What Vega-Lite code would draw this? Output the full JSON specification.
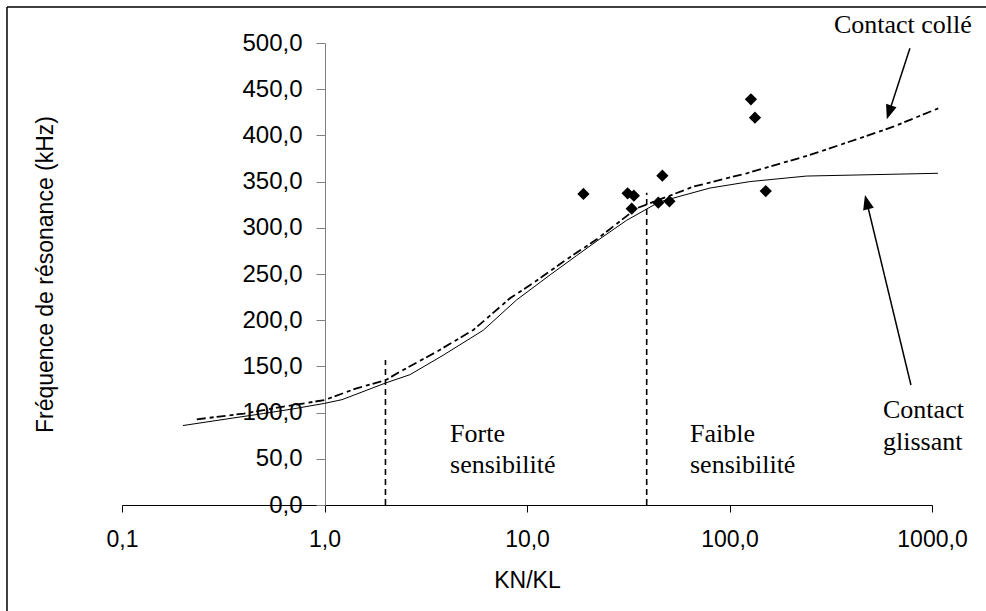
{
  "$schema": "https://vega.github.io/schema/vega-lite/v6.json",
  "width": 810,
  "height": 462,
  "autosize": "none",
  "padding": {"left": 122, "top": 43, "right": 54, "bottom": 106},
  "background": "white",
  "config": {"view": {"stroke": null}, "font": "Liberation Sans"},
  "datasets": {
    "glissant": [
      {"kn": 0.2, "f": 86}, {"kn": 0.35, "f": 94}, {"kn": 0.5, "f": 99}, {"kn": 0.7, "f": 104},
      {"kn": 1, "f": 110}, {"kn": 1.22, "f": 114}, {"kn": 2, "f": 132}, {"kn": 2.64, "f": 141},
      {"kn": 3.85, "f": 162}, {"kn": 6.07, "f": 189}, {"kn": 8.89, "f": 222}, {"kn": 13, "f": 249},
      {"kn": 17.6, "f": 270}, {"kn": 22.9, "f": 288}, {"kn": 31, "f": 308}, {"kn": 45, "f": 328},
      {"kn": 80, "f": 343}, {"kn": 126, "f": 350}, {"kn": 240, "f": 356}, {"kn": 1070, "f": 359}
    ],
    "colle": [
      {"kn": 0.234, "f": 92.7}, {"kn": 0.4, "f": 99}, {"kn": 0.627, "f": 106.4}, {"kn": 1, "f": 113.6},
      {"kn": 1.44, "f": 126.3}, {"kn": 2, "f": 135}, {"kn": 2.36, "f": 144.3}, {"kn": 3.58, "f": 165.9},
      {"kn": 5.43, "f": 189.4}, {"kn": 8.24, "f": 223.7}, {"kn": 10.7, "f": 240}, {"kn": 15.1, "f": 263.3},
      {"kn": 22.1, "f": 287.5}, {"kn": 34.7, "f": 321}, {"kn": 66.2, "f": 344.5}, {"kn": 121.6, "f": 359},
      {"kn": 249, "f": 378.8}, {"kn": 440, "f": 396.9}, {"kn": 644, "f": 409.4}, {"kn": 1074, "f": 429.3}
    ],
    "mesures": [
      {"kn": 19.0, "f": 336.6}, {"kn": 31.4, "f": 337.3}, {"kn": 33.7, "f": 334.8}, {"kn": 32.9, "f": 320.7},
      {"kn": 46.6, "f": 356.4}, {"kn": 44.5, "f": 327.2}, {"kn": 50.5, "f": 328.6}, {"kn": 127.6, "f": 439},
      {"kn": 133.6, "f": 419.2}, {"kn": 151, "f": 339.8}
    ],
    "limites": [
      {"kn": 2, "f0": 0, "f1": 157},
      {"kn": 39, "f0": 0, "f1": 338}
    ],
    "labels": [
      {"kn": 4.17, "f": 68.2, "t": "Forte"},
      {"kn": 4.17, "f": 34.6, "t": "sensibilité"},
      {"kn": 63.8, "f": 68.2, "t": "Faible"},
      {"kn": 63.8, "f": 34.6, "t": "sensibilité"},
      {"kn": 573, "f": 94.2, "t": "Contact"},
      {"kn": 573, "f": 59.5, "t": "glissant"},
      {"kn": 328, "f": 510.8, "t": "Contact collé"}
    ],
    "fleches": [
      {"nom": "colle", "kn": 778, "f": 494.3, "kn2": 619.6, "f2": 427.7},
      {"nom": "glissant", "kn": 787, "f": 129.9, "kn2": 479.7, "f2": 325.0}
    ],
    "cadre": [
      {"kn": 0.02704, "kn2": 100000, "f": 539, "f2": -300}
    ]
  },
  "layer": [
    {
      "data": {"name": "glissant"},
      "mark": {"type": "line", "color": "black", "strokeWidth": 1},
      "encoding": {
        "x": {
          "field": "kn", "type": "quantitative",
          "scale": {"type": "log", "domain": [0.1, 1000], "nice": false},
          "axis": {
            "values": [0.1, 1, 10, 100, 1000],
            "labelExpr": "replace(format(datum.value, '.1f'), '.', ',')",
            "title": "KN/KL",
            "grid": false,
            "domainColor": "black", "domainWidth": 1,
            "tickColor": "black", "tickSize": 7, "tickWidth": 1,
            "labelFont": "Liberation Sans", "labelFontSize": 23, "labelColor": "black",
            "labelPadding": 16, "labelFlush": false, "labelOverlap": false,
            "titleFont": "Liberation Sans", "titleFontSize": 23, "titleFontWeight": "normal", "titleColor": "black",
            "titleX": 405, "titleY": 82, "titleBaseline": "alphabetic", "titleAlign": "center"
          }
        },
        "y": {
          "field": "f", "type": "quantitative",
          "scale": {"domain": [0, 500], "nice": false, "zero": false},
          "axis": {
            "values": [0, 50, 100, 150, 200, 250, 300, 350, 400, 450, 500],
            "offset": -203,
            "labelExpr": "replace(format(datum.value, '.1f'), '.', ',')",
            "title": "Fréquence de résonance (kHz)",
            "grid": false,
            "domainColor": "#808080", "domainWidth": 1,
            "tickColor": "#808080", "tickSize": 9, "tickWidth": 1,
            "labelFont": "Liberation Sans", "labelFontSize": 24, "labelColor": "black",
            "labelPadding": 14, "labelFlush": false, "labelOverlap": false,
            "titleFont": "Liberation Sans", "titleFontSize": 23, "titleFontWeight": "normal", "titleColor": "black",
            "titleX": -280, "titleY": 231, "titleAngle": -90, "titleAlign": "center", "titleBaseline": "middle"
          }
        }
      }
    },
    {
      "data": {"name": "colle"},
      "mark": {"type": "line", "color": "black", "strokeWidth": 1.8, "strokeDash": [9, 4, 4, 3]},
      "encoding": {
        "x": {"field": "kn", "type": "quantitative"},
        "y": {"field": "f", "type": "quantitative"}
      }
    },
    {
      "data": {"name": "limites"},
      "mark": {"type": "rule", "color": "black", "strokeWidth": 1.6, "strokeDash": [6, 4]},
      "encoding": {
        "x": {"field": "kn", "type": "quantitative"},
        "y": {"field": "f0", "type": "quantitative"},
        "y2": {"field": "f1"}
      }
    },
    {
      "data": {"name": "mesures"},
      "mark": {"type": "point", "shape": "diamond", "filled": true, "color": "black", "opacity": 1, "size": 150},
      "encoding": {
        "x": {"field": "kn", "type": "quantitative"},
        "y": {"field": "f", "type": "quantitative"}
      }
    },
    {
      "data": {"name": "fleches"},
      "mark": {"type": "rule", "color": "black", "strokeWidth": 1.5},
      "encoding": {
        "x": {"field": "kn", "type": "quantitative"},
        "y": {"field": "f", "type": "quantitative"},
        "x2": {"field": "kn2"},
        "y2": {"field": "f2"}
      }
    },
    {
      "data": {"name": "fleches"},
      "transform": [{"filter": "datum.nom === 'colle'"}],
      "mark": {"type": "point", "shape": "M0,-1L-0.55,0.45L0.55,0.45Z", "filled": true, "color": "black", "opacity": 1, "size": 400, "angle": 198},
      "encoding": {
        "x": {"field": "kn2", "type": "quantitative"},
        "y": {"field": "f2", "type": "quantitative"}
      }
    },
    {
      "data": {"name": "fleches"},
      "transform": [{"filter": "datum.nom === 'glissant'"}],
      "mark": {"type": "point", "shape": "M0,-1L-0.55,0.45L0.55,0.45Z", "filled": true, "color": "black", "opacity": 1, "size": 400, "angle": 346},
      "encoding": {
        "x": {"field": "kn2", "type": "quantitative"},
        "y": {"field": "f2", "type": "quantitative"}
      }
    },
    {
      "data": {"name": "labels"},
      "mark": {"type": "text", "align": "left", "baseline": "alphabetic", "font": "Liberation Serif", "fontSize": 26, "color": "black"},
      "encoding": {
        "x": {"field": "kn", "type": "quantitative"},
        "y": {"field": "f", "type": "quantitative"},
        "text": {"field": "t"}
      }
    },
    {
      "data": {"name": "cadre"},
      "mark": {"type": "rule", "color": "#404040", "strokeWidth": 2},
      "encoding": {
        "x": {"field": "kn", "type": "quantitative"},
        "x2": {"field": "kn2"},
        "y": {"field": "f", "type": "quantitative"}
      }
    },
    {
      "data": {"name": "cadre"},
      "mark": {"type": "rule", "color": "black", "strokeWidth": 1.5},
      "encoding": {
        "x": {"field": "kn", "type": "quantitative"},
        "y": {"field": "f", "type": "quantitative"},
        "y2": {"field": "f2"}
      }
    }
  ]
}
